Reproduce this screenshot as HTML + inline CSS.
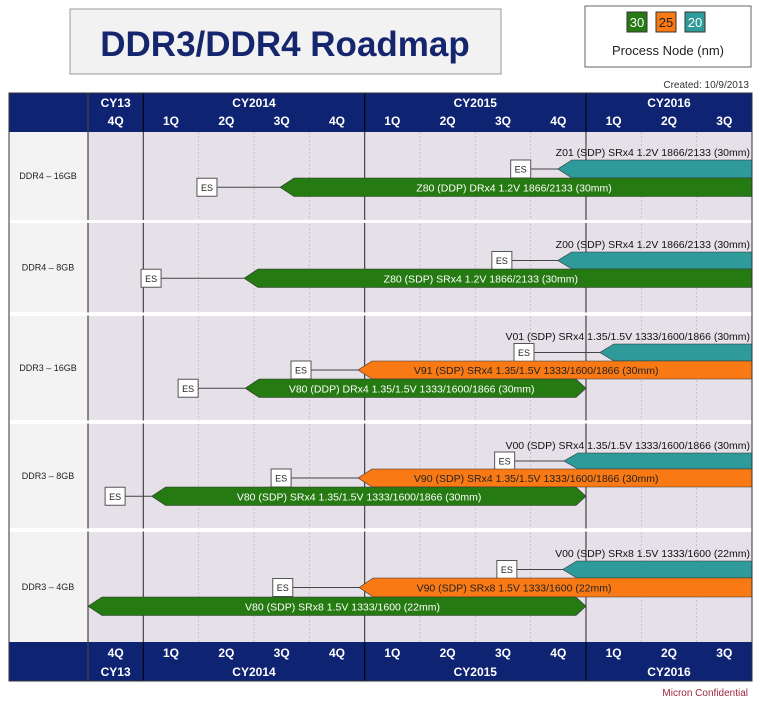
<!DOCTYPE html>
<html><head><meta charset="utf-8"><style>
body{margin:0;background:#fff;width:761px;height:701px;overflow:hidden;font-family:"Liberation Sans",sans-serif}
svg text{font-family:"Liberation Sans",sans-serif}
</style></head><body>
<svg id="c" width="761" height="701" xmlns="http://www.w3.org/2000/svg">
<rect x="70" y="9" width="431" height="65" fill="#f2f2f2" stroke="#999"/>
<text x="285" y="56" text-anchor="middle" font-size="35" font-weight="bold" fill="#16266e">DDR3/DDR4 Roadmap</text>
<rect x="585" y="6" width="166" height="61" fill="#fff" stroke="#666"/>
<g><rect x="627" y="12" width="20" height="20" fill="#267a12" stroke="#333"/><text x="637" y="27" text-anchor="middle" font-size="13" fill="#fff">30</text></g>
<g><rect x="656" y="12" width="20" height="20" fill="#f97a14" stroke="#333"/><text x="666" y="27" text-anchor="middle" font-size="13" fill="#222">25</text></g>
<g><rect x="685" y="12" width="20" height="20" fill="#2e9a9a" stroke="#333"/><text x="695" y="27" text-anchor="middle" font-size="13" fill="#fff">20</text></g>
<text x="668" y="55" text-anchor="middle" font-size="13" fill="#222">Process Node (nm)</text>
<text x="749" y="88" text-anchor="end" font-size="10" fill="#333">Created: 10/9/2013</text>
<text x="748" y="696" text-anchor="end" font-size="10" fill="#a0283c">Micron Confidential</text>
<g id="g"></g>
</svg>
<script>
const quarters=["4Q","1Q","2Q","3Q","4Q","1Q","2Q","3Q","4Q","1Q","2Q","3Q"];
const years=["CY13","CY2014","CY2015","CY2016"];
const yearSpan=[[0,1],[1,5],[5,9],[9,12]];
const rowLabels=["DDR4 – 16GB","DDR4 – 8GB","DDR3 – 16GB","DDR3 – 8GB","DDR3 – 4GB"];
const barRow=[0,0,1,1,2,2,2,3,3,3,4,4,4];
const barTop=[160,178,252,269,344,361,379,453,469,487,561,578,597];
const barStart=[8.49,3.47,8.49,2.82,9.25,4.88,2.84,8.6,4.88,1.15,8.58,4.9,0];
const barEnd=[12,12,12,12,12,12,9,12,12,9,12,12,9];
const barES=[7.82,2.15,7.48,1.14,7.88,3.85,1.81,7.53,3.49,0.49,7.57,3.52,null];
const barNode=["20","30","20","30","20","25","30","20","25","30","20","25","30"];
const barLabel=["Z01 (SDP) SRx4 1.2V  1866/2133  (30mm)","Z80 (DDP) DRx4 1.2V  1866/2133  (30mm)","Z00 (SDP) SRx4 1.2V  1866/2133  (30mm)","Z80 (SDP) SRx4 1.2V  1866/2133  (30mm)","V01 (SDP) SRx4 1.35/1.5V 1333/1600/1866 (30mm)","V91 (SDP) SRx4 1.35/1.5V 1333/1600/1866 (30mm)","V80 (DDP) DRx4 1.35/1.5V 1333/1600/1866 (30mm)","V00 (SDP) SRx4 1.35/1.5V 1333/1600/1866 (30mm)","V90 (SDP) SRx4 1.35/1.5V 1333/1600/1866 (30mm)","V80 (SDP) SRx4 1.35/1.5V 1333/1600/1866 (30mm)","V00 (SDP) SRx8 1.5V 1333/1600 (22mm)","V90 (SDP) SRx8 1.5V 1333/1600 (22mm)","V80 (SDP) SRx8 1.5V 1333/1600 (22mm)"];
const barLabelQ=[null,7.7,null,7.1,null,8.1,5.85,null,8.1,4.9,null,7.7,4.6];
const rowTop=[132,223,316,424,532],rowBot=[220,312,420,528,642];
const colors={"30":"#267a12","25":"#f97a14","20":"#2e9a9a"};
const X0=88,QW=55.33;
const xq=q=>X0+q*QW;
const g=document.getElementById('g');
const NS="http://www.w3.org/2000/svg";
function mk(t,a,p){const e=document.createElementNS(NS,t);for(const k in a)e.setAttribute(k,a[k]);(p||g).appendChild(e);return e;}
let e=mk('rect',{x:9,y:93,width:743,height:39,fill:"#0f2373"});

e=mk('rect',{x:9,y:642,width:743,height:39,fill:"#0f2373"});

rowLabels.forEach((l,i)=>{
 let r=mk('rect',{x:9,y:rowTop[i],width:79,height:rowBot[i]-rowTop[i],fill:"#f3f3f3"});
 
 r=mk('rect',{x:88,y:rowTop[i],width:664,height:rowBot[i]-rowTop[i],fill:"#e6e0e8"});
 
 let t=mk('text',{x:48,y:(rowTop[i]+rowBot[i])/2+3,"text-anchor":"middle","font-size":9,fill:"#222"});t.textContent=l;
 
});
for(let q=1;q<12;q++){
 const yb=yearSpan.some(s=>s[0]===q);
 let l=mk('line',{x1:xq(q),x2:xq(q),y1:132,y2:642,stroke:yb?"#444":"#bbb","stroke-width":yb?1.2:0.8,"stroke-dasharray":yb?"":"2,2"});
 
}
let l0=mk('line',{x1:88,x2:88,y1:93,y2:681,stroke:"#444","stroke-width":1.2});

quarters.forEach((q,i)=>{
 [[125,'header-quarter'],[657,'footer-quarter']].forEach(([y,n])=>{
  let t=mk('text',{x:xq(i+0.5),y:y,"text-anchor":"middle","font-size":12,"font-weight":"bold",fill:"#fff"});t.textContent=q;
  
 });
});
years.forEach((yr,i)=>{
 const c=(xq(yearSpan[i][0])+xq(yearSpan[i][1]))/2;
 [[107,'header-year'],[676,'footer-year']].forEach(([y,n])=>{
  let t=mk('text',{x:c,y:y,"text-anchor":"middle","font-size":12,"font-weight":"bold",fill:"#fff"});t.textContent=yr;
  
 });
 if(i>0){for(const [a,b] of [[93,132],[642,681]]){let l=mk('line',{x1:xq(yearSpan[i][0]),x2:xq(yearSpan[i][0]),y1:a,y2:b,stroke:"#000","stroke-width":1});
 }}
});
[221.5,314,422,530].forEach(y=>{let r=mk('rect',{x:9,y:y-1.5,width:743,height:3,fill:"#fff"});
 });
barTop.forEach((top,i)=>{
 const h=(i<barTop.length-1&&barRow[i+1]===barRow[i])?barTop[i+1]-top:18.5;
 const x1=xq(barStart[i]),x2=xq(barEnd[i]),ym=top+h/2,d=14;
 const pointed=barEnd[i]<12;
 const pts=[[x1,ym],[x1+d,top],[pointed?x2-10:x2,top],[x2,pointed?ym:top],[x2,pointed?ym:top+h],[pointed?x2-10:x2,top+h],[x1+d,top+h]];
 const grp=mk('g',{});
 
 if(barES[i]!==null){
  const ex=xq(barES[i]);
  let ln=mk('line',{x1:ex,x2:x1,y1:ym,y2:ym,stroke:"#444","stroke-width":1},grp);
  
  let b=mk('rect',{x:ex-10,y:ym-9,width:20,height:18,fill:"#fff",stroke:"#555"},grp);
  
  let t=mk('text',{x:ex,y:ym+3.5,"text-anchor":"middle","font-size":9,fill:"#222"},grp);t.textContent="ES";
  
 }
 let p=mk('polygon',{points:pts.map(a=>a.join(',')).join(' '),fill:colors[barNode[i]],stroke:"#333","stroke-width":0.6},grp);
 
 let t;
 if(barLabelQ[i]===null){t=mk('text',{x:750,y:top-4,"text-anchor":"end","font-size":10.5,fill:"#111"},grp);}
 else{t=mk('text',{x:xq(barLabelQ[i]),y:ym+4,"text-anchor":"middle","font-size":10.5,fill:barNode[i]==="25"?"#222":"#fff"},grp);}
 t.textContent=barLabel[i];
 
});
let fr=mk('rect',{x:9,y:93,width:743,height:588,fill:"none",stroke:"#333","stroke-width":1});

</script>
</body></html>
